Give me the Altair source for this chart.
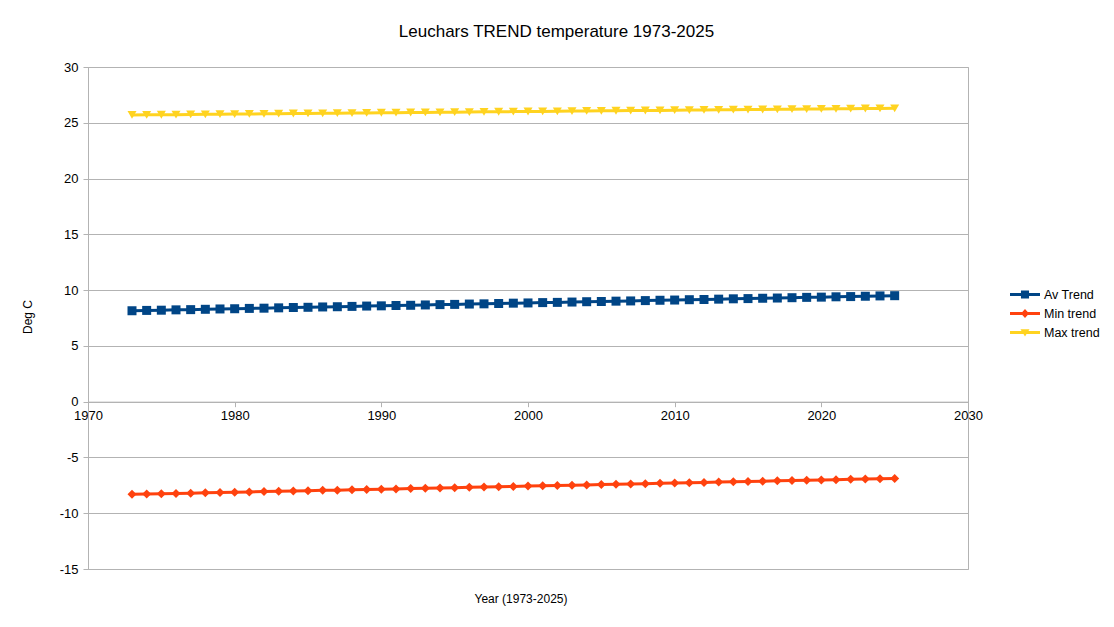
import altair as alt
import pandas as pd

years = list(range(1973, 2026))

av_trend = [
    8.15, 8.18, 8.20, 8.23, 8.25, 8.28, 8.31, 8.33, 8.36, 8.38,
    8.41, 8.44, 8.46, 8.49, 8.51, 8.54, 8.57, 8.59, 8.62, 8.64,
    8.67, 8.70, 8.72, 8.75, 8.77, 8.80, 8.83, 8.85, 8.88, 8.90,
    8.93, 8.96, 8.98, 9.01, 9.03, 9.06, 9.09, 9.11, 9.14, 9.16,
    9.19, 9.22, 9.24, 9.27, 9.29, 9.32, 9.35, 9.37, 9.40, 9.42,
    9.45, 9.48, 9.50,
]

min_trend = [
    -8.31, -8.28, -8.26, -8.23, -8.20, -8.17, -8.15, -8.12, -8.09, -8.06,
    -8.04, -8.01, -7.98, -7.95, -7.93, -7.90, -7.87, -7.84, -7.82, -7.79,
    -7.76, -7.73, -7.71, -7.68, -7.65, -7.62, -7.60, -7.57, -7.54, -7.51,
    -7.49, -7.46, -7.43, -7.40, -7.38, -7.35, -7.32, -7.29, -7.27, -7.24,
    -7.21, -7.18, -7.16, -7.13, -7.10, -7.07, -7.05, -7.02, -6.99, -6.96,
    -6.94, -6.91, -6.88,
]

max_trend = [
    25.70, 25.71, 25.72, 25.73, 25.75, 25.76, 25.77, 25.78, 25.79, 25.80,
    25.82, 25.83, 25.84, 25.85, 25.86, 25.87, 25.88, 25.90, 25.91, 25.92,
    25.93, 25.94, 25.95, 25.96, 25.98, 25.99, 26.00, 26.01, 26.02, 26.03,
    26.05, 26.06, 26.07, 26.08, 26.09, 26.10, 26.11, 26.13, 26.14, 26.15,
    26.16, 26.17, 26.18, 26.19, 26.21, 26.22, 26.23, 26.24, 26.25, 26.26,
    26.28, 26.29, 26.30,
]

series_names = ["Av Trend", "Min trend", "Max trend"]
series_colors = ["#004586", "#ff420e", "#ffd320"]
marker_shapes = ["square", "diamond", "triangle-down"]

# legend glyphs: a short line with the series marker on top
legend_glyphs = [
    "M-1,-0.1H1V0.1H-1Z M-0.27,-0.27H0.27V0.27H-0.27Z",
    "M-1,-0.1H1V0.1H-1Z M0,-0.3L0.27,0L0,0.3L-0.27,0Z",
    "M-1,-0.1H1V0.1H-1Z M-0.3,-0.22L0.3,-0.22L0,0.27Z",
]

rows = []
for name, vals in zip(series_names, [av_trend, min_trend, max_trend]):
    for y, v in zip(years, vals):
        rows.append({"year": y, "value": v, "series": name})
df = pd.DataFrame(rows)

W, H = 880, 502
GRID = "#b3b3b3"
FONT = "Liberation Sans"

x_enc = alt.X(
    "year:Q",
    scale=alt.Scale(domain=[1970, 2030], nice=False, zero=False),
    axis=alt.Axis(
        values=list(range(1970, 2031, 10)),
        format="d",
        title=None,
        grid=False,
        offset=-H * 15 / 45,
        domainColor=GRID,
        tickColor=GRID,
        tickSize=5,
        labelFontSize=13,
        labelColor="#000000",
        labelPadding=3,
        labelFont=FONT,
        labelFlush=False,
        labelOverlap=False,
    ),
)
y_enc = alt.Y(
    "value:Q",
    scale=alt.Scale(domain=[-15, 30], nice=False, zero=False),
    axis=alt.Axis(
        values=list(range(-15, 31, 5)),
        labelExpr="'' + datum.value",
        title=None,
        grid=True,
        gridColor=GRID,
        domainColor=GRID,
        tickColor=GRID,
        tickSize=5,
        labelFontSize=13,
        labelColor="#000000",
        labelPadding=5,
        labelFont=FONT,
        labelFlush=False,
        labelOverlap=False,
    ),
)

color_scale = alt.Scale(domain=series_names, range=series_colors)

base = alt.Chart(df)

lines = base.mark_line(strokeWidth=3).encode(
    x=x_enc,
    y=y_enc,
    color=alt.Color("series:N", scale=color_scale, legend=None),
    detail="series:N",
)

points = base.mark_point(filled=True, size=81, opacity=1).encode(
    x="year:Q",
    y="value:Q",
    color=alt.Color("series:N", scale=color_scale, legend=None),
    shape=alt.Shape(
        "series:N",
        scale=alt.Scale(domain=series_names, range=marker_shapes),
        legend=None,
    ),
)

legend_layer = base.mark_point(filled=True, size=900, opacity=1).encode(
    x="year:Q",
    y="value:Q",
    color=alt.Color(
        "series:N",
        scale=color_scale,
        title=None,
        legend=alt.Legend(
            orient="none",
            legendX=922,
            legendY=219,
            padding=0,
            symbolSize=900,
            symbolStrokeWidth=0,
            symbolOpacity=1,
            clipHeight=17,
            rowPadding=2,
            labelFontSize=12.5,
            labelFont=FONT,
            labelColor="#000000",
            labelOffset=4,
        ),
    ),
    shape=alt.Shape(
        "series:N",
        scale=alt.Scale(domain=series_names, range=legend_glyphs),
        title=None,
    ),
).transform_filter("false")

label_df = pd.DataFrame({"k": [0]})

title_text = alt.Chart(label_df).mark_text(
    text="Leuchars TREND temperature 1973-2025",
    fontSize=17,
    font=FONT,
    color="#000000",
    align="center",
    baseline="alphabetic",
).encode(x=alt.value(468.5), y=alt.value(-30))

x_title = alt.Chart(label_df).mark_text(
    text="Year (1973-2025)",
    fontSize=12,
    font=FONT,
    color="#000000",
    align="center",
    baseline="alphabetic",
).encode(x=alt.value(433), y=alt.value(536))

y_title = alt.Chart(label_df).mark_text(
    text="Deg C",
    fontSize=12,
    font=FONT,
    color="#000000",
    align="center",
    baseline="middle",
    angle=270,
).encode(x=alt.value(-60.5), y=alt.value(250))

chart = (
    alt.layer(lines, points, legend_layer, title_text, x_title, y_title)
    .resolve_scale(color="independent", shape="independent")
    .properties(
        width=W,
        height=H,
        padding={"left": 88, "top": 67, "right": 146, "bottom": 58},
        autosize="none",
        background="#ffffff",
    )
    .configure_view(stroke=GRID, strokeWidth=1)
)

chart.save("out.html", embed_options={"renderer": "svg", "actions": False})
